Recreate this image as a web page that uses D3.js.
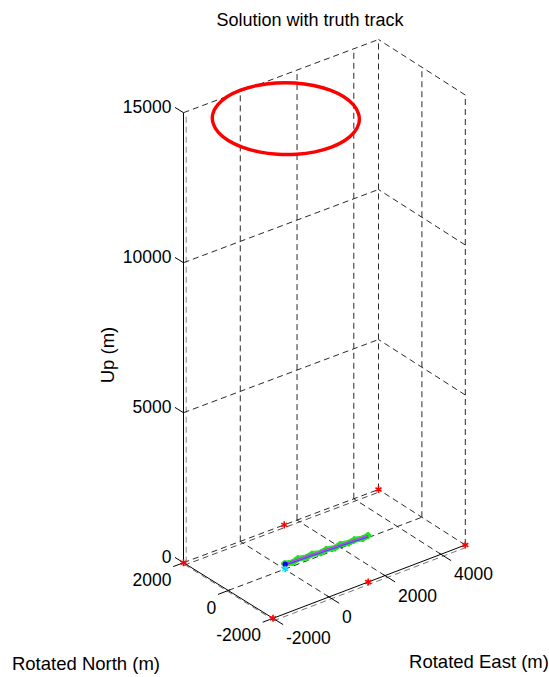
<!DOCTYPE html>
<html>
<head>
<meta charset="utf-8">
<script src="https://cdn.jsdelivr.net/npm/d3@7"></script>
<style>
  html, body { margin: 0; padding: 0; background: #fff; }
  svg { display: block; }
  text { font-family: "Liberation Sans", Arial, sans-serif; fill: #000; }
</style>
</head>
<body>
<svg id="chart" width="549" height="677"></svg>
<script>
// ---------------- data ----------------
const title = "Solution with truth track";
const xLabel = "Rotated East (m)";
const yLabel = "Rotated North (m)";
const zLabel = "Up (m)";

const eastTicks = [-2000, 0, 2000, 4000];
const northTicks = [-2000, 0, 2000];
const upTicks = [0, 5000, 10000, 15000];
const eastDomain = [-2000, 4870];
const northDomain = [-2000, 2000];
const upDomain = [0, 15000];

// truth track (red circle at altitude)
const truthE = [2100, 2030, 1825, 1500, 1075, 581, 50, -481, -975, -1400, -1725, -1930,
                -2000, -1930, -1725, -1400, -975, -481, 50, 581, 1075, 1500, 1825, 2030];
const truthN = [0, 531, 1025, 1450, 1775, 1980, 2050, 1980, 1775, 1450, 1025, 531,
                0, -531, -1025, -1450, -1775, -1980, -2050, -1980, -1775, -1450, -1025, -531];
const truthZ = [15000, 15000, 15000, 15000, 15000, 15000, 15000, 15000, 15000, 15000, 15000, 15000,
                15000, 15000, 15000, 15000, 15000, 15000, 15000, 15000, 15000, 15000, 15000, 15000];

// solution (near the ground)
const solE = [20, 300, 600, 900, 1200, 1500, 1800, 2100, 2400, 2700, 2960];
const solN = [0, 4, -3, 4, -2, 3, -3, 2, 3, -2, 0];
const solZ = [160, 150, 140, 130, 120, 110, 100, 90, 75, 60, 50];
// raw measurements (green)
const measE = [20, 250, 500, 750, 1000, 1250, 1500, 1750, 2000, 2250, 2500, 2750, 2980];
const measN = [30, -40, 45, -35, 40, -45, 35, -40, 45, -30, 40, -35, 30];
const measZ = [160, 150, 150, 140, 130, 120, 110, 100, 95, 85, 75, 60, 50];
// start markers
const startBlue = [20, 0, 160];
const startCyan = [20, 0, 0];

// anchors (red stars, on the ground)
const anchorE = [-2000, -2000, 4870, 4870, 1550, 1400];
const anchorN = [2000, -2000, -2000, 2000, 2000, -2000];
const anchorZ = [0, 0, 0, 0, 0, 0];

// ---------------- projection through scales ----------------
const svg = d3.select("#chart");
const tE = d3.scaleLinear().domain(eastDomain).range([0, 1]);
const tN = d3.scaleLinear().domain(northDomain).range([0, 1]);
const zY = d3.scaleLinear().domain(upDomain).range([0, -450]);
// floor corners on screen
const cB = [273, 618.3];   // E min, N min
const cC = [465.3, 545];   // E max, N min
const cA = [183.5, 562.7]; // E min, N max
const cD = [378.5, 489.5]; // E max, N max
const iBC = d3.interpolate(cB, cC);
const iAD = d3.interpolate(cA, cD);
function P(E, N, Z) {
  const t = tE(E), u = tN(N);
  const p = d3.interpolate(iBC(t), iAD(t))(u);
  return [p[0], p[1] + zY(Z)];
}
const line = d3.line();

const gGrid = svg.append("g").attr("fill", "none").attr("stroke", "#111")
  .attr("stroke-width", 0.9).attr("stroke-dasharray", "6,4");
function gridLine(p1, p2, dx = 0, dy = 0, col = "#111") {
  gGrid.append("path").attr("d", line([p1, p2]))
    .attr("transform", `translate(${dx},${dy})`).attr("stroke", col);
}
const [e0, e1] = eastDomain, [n0, n1] = northDomain, [z0, z1] = upDomain;

// floor grid: lines of constant E
eastTicks.forEach(e => {
  if (e === e0) gridLine(P(e, n0, 0), P(e, n1, 0), 1.5, 2.2, "#666");
  else gridLine(P(e, n0, 0), P(e, n1, 0));
});
// floor grid: lines of constant N
northTicks.forEach(n => {
  if (n === n0) gridLine(P(e0, n, 0), P(e1, n, 0), 0.5, 2.5, "#666");
  else if (n === n1) { gridLine(P(e0, n, 0), P(e1, n, 0)); gridLine(P(e0, n, 0), P(e1, n, 0), 0.5, 2.6, "#333"); }
  else gridLine(P(e0, n, 0), P(e1, n, 0));
});
// back wall N = max: verticals at E ticks, horizontals at Z ticks
eastTicks.forEach(e => {
  if (e === e0) gridLine(P(e, n1, z0), P(e, n1, z1), 2.7, 0, "#777");
  else gridLine(P(e, n1, z0), P(e, n1, z1));
});
upTicks.forEach(z => { if (z !== 0) gridLine(P(e0, n1, z), P(e1, n1, z)); });
// back wall E = max: verticals at N ticks, horizontals at Z ticks
northTicks.forEach(n => gridLine(P(e1, n, z0), P(e1, n, z1)));
upTicks.forEach(z => gridLine(P(e1, n0, z), P(e1, n1, z)));

// ---------------- axes ----------------
const gAx = svg.append("g").attr("stroke", "#000").attr("stroke-width", 1).attr("fill", "none");
gAx.append("path").attr("d", line([P(e0, n0, 0), P(e1, n0, 0)]));  // East axis
gAx.append("path").attr("d", line([P(e0, n0, 0), P(e0, n1, 0)]));  // North axis
gAx.append("path").attr("d", line([P(e0, n1, z0), P(e0, n1, z1)])); // Up axis

function unit(a, b) { const dx = b[0] - a[0], dy = b[1] - a[1], l = Math.hypot(dx, dy); return [dx / l, dy / l]; }
const dirOutN = unit(P(e0, n1, 0), P(e0, n0, 0)); // towards -N
const dirOutE = unit(P(e1, n0, 0), P(e0, n0, 0)); // towards -E
const dirZtick = unit(P(e0, n0, 0), P(e0, n1, 0)); // towards +N

const fs = 17.5;
// East ticks & labels
eastTicks.forEach(e => {
  const p = P(e, n0, 0);
  gAx.append("path").attr("d", line([[p[0] - dirOutN[0] * 2, p[1] - dirOutN[1] * 2], [p[0] + dirOutN[0] * 12, p[1] + dirOutN[1] * 12]]));
  svg.append("text").attr("x", p[0] + 13).attr("y", p[1] + 20).attr("dy", "0.35em")
    .attr("font-size", fs).attr("text-anchor", "start").text(e);
});
// North ticks & labels
northTicks.forEach(n => {
  const p = P(e0, n, 0);
  gAx.append("path").attr("d", line([[p[0] - dirOutE[0] * 2, p[1] - dirOutE[1] * 2], [p[0] + dirOutE[0] * 11, p[1] + dirOutE[1] * 11]]));
  svg.append("text").attr("x", p[0] - 12).attr("y", p[1] + 17).attr("dy", "0.35em")
    .attr("font-size", fs).attr("text-anchor", "end").text(n);
});
// Up ticks & labels
upTicks.forEach(z => {
  const p = P(e0, n1, z);
  gAx.append("path").attr("d", line([p, [p[0] + dirZtick[0] * 10, p[1] + dirZtick[1] * 10]]));
  svg.append("text").attr("x", p[0] - 12).attr("y", p[1] - 6).attr("dy", "0.35em")
    .attr("font-size", fs).attr("text-anchor", "end").text(z);
});

// ---------------- truth track ----------------
const truthPts = truthE.map((e, i) => P(e, truthN[i], truthZ[i]));
svg.append("path").attr("d", d3.line().curve(d3.curveCardinalClosed.tension(0))(truthPts))
  .attr("fill", "none").attr("stroke", "#ff0000").attr("stroke-width", 3.4);

// ---------------- solution ----------------
const measPts = measE.map((e, i) => P(e, measN[i], measZ[i]));
svg.append("path").attr("d", line(measPts)).attr("fill", "none")
  .attr("stroke", "#2ee82e").attr("stroke-width", 6).attr("stroke-linejoin", "round")
  .attr("stroke-linecap", "round");
svg.append("g").selectAll("path").data(measPts).join("path")
  .attr("transform", d => `translate(${d[0]},${d[1]})`)
  .attr("d", d3.symbol(d3.symbolCross, 26)()).attr("fill", "#22dd22");
const solPts = solE.map((e, i) => P(e, solN[i], solZ[i]));
svg.append("path").attr("d", line(solPts.map(p => [p[0], p[1] + 0.8]))).attr("fill", "none")
  .attr("stroke", "#4646ff").attr("stroke-width", 1.4);
svg.append("path").attr("d", line(solPts.map(p => [p[0], p[1] - 0.6]))).attr("fill", "none")
  .attr("stroke", "#c040f0").attr("stroke-width", 1.4);

// start markers
const pb = P(...startBlue);
svg.append("circle").attr("cx", pb[0]).attr("cy", pb[1]).attr("r", 2.6).attr("fill", "#0000ee");
const pc = P(...startCyan);
svg.append("path").attr("transform", `translate(${pc[0]},${pc[1]})`)
  .attr("d", d3.symbol(d3.symbolAsterisk, 30)()).attr("fill", "none")
  .attr("stroke", "#00e5ff").attr("stroke-width", 1.6);

// anchors
svg.append("g").selectAll("path").data(anchorE.map((e, i) => P(e, anchorN[i], anchorZ[i]))).join("path")
  .attr("transform", d => `translate(${d[0]},${d[1]})`)
  .attr("d", d3.symbol(d3.symbolAsterisk, 34)()).attr("fill", "none")
  .attr("stroke", "#ff0000").attr("stroke-width", 1.6);

// ---------------- labels ----------------
svg.append("text").attr("x", 310).attr("y", 25.5).attr("text-anchor", "middle")
  .attr("font-size", 18).text(title);
svg.append("text").attr("x", 86).attr("y", 664).attr("dy", "0.35em").attr("text-anchor", "middle")
  .attr("font-size", 18.5).text(yLabel);
svg.append("text").attr("x", 479).attr("y", 662).attr("dy", "0.35em").attr("text-anchor", "middle")
  .attr("font-size", 18.5).text(xLabel);
svg.append("text").attr("transform", "translate(108,355) rotate(-90)").attr("dy", "0.35em")
  .attr("text-anchor", "middle").attr("font-size", 18.5).text(zLabel);
</script>
</body>
</html>
